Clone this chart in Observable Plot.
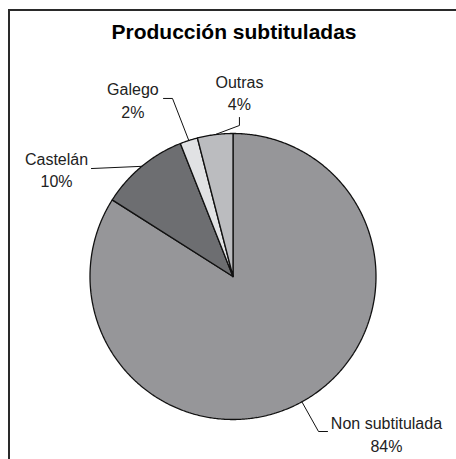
<!DOCTYPE html>
<html>
<head>
<meta charset="utf-8">
<script src="https://cdn.jsdelivr.net/npm/d3@7"></script>
<script src="https://cdn.jsdelivr.net/npm/@observablehq/plot@0.6"></script>
<style>
  html, body { margin: 0; padding: 0; background: #fff; overflow: hidden; }
  #wrap { position: relative; width: 456px; height: 459px; overflow: hidden; }
  #frame { position: absolute; left: 8px; top: 9px; width: 520px; height: 520px; border: 2px solid #2a2a2a; box-sizing: border-box; pointer-events: none; }
  #title { position: absolute; left: 0; top: 21px; width: 468px; text-align: center; font: bold 21px/21px "Liberation Sans", Arial, sans-serif; color: #000; }
  #chart { position: absolute; left: 0; top: 0; }
</style>
</head>
<body>
<div id="wrap">
  <div id="chart"></div>
  <div id="frame"></div>
  <div id="title">Producción subtituladas</div>
</div>
<script>
// ---- data ----
const categories = ["Non subtitulada", "Castelán", "Galego", "Outras"];
const values = [84, 10, 2, 4];
const percentLabels = ["84%", "10%", "2%", "4%"];

// ---- style ----
const sliceColors = ["#969699", "#6d6e71", "#e1e2e4", "#bbbcbf"];

// ---- label layout (in pie units: radius = 1) ----
const leaderBends = [
  [[0.598, -1.084], [0.661, -1.084]],
  [[-0.99, 0.755]],
  [[-0.423, 1.245], [-0.486, 1.245]],
  [[0.045, 1.056], [0.045, 1.112]]
];
const labelAnchor = [
  {x: 1.073, yName: -1.028, yPct: -1.19},
  {x: -1.234, yName: 0.818, yPct: 0.664},
  {x: -0.70, yName: 1.308, yPct: 1.147},
  {x: 0.045, yName: 1.357, yPct: 1.203}
];

// ---- build slices ----
const arcs = d3.pie().sort(null).value(d => d).startAngle(0).endAngle(2 * Math.PI)(values);
const slicePts = [];
arcs.forEach((a, i) => {
  slicePts.push({k: i, x: 0, y: 0, c: sliceColors[i]});
  const n = Math.max(2, Math.ceil((a.endAngle - a.startAngle) / (Math.PI / 360)));
  for (let j = 0; j <= n; j++) {
    const t = a.startAngle + (a.endAngle - a.startAngle) * j / n;
    slicePts.push({k: i, x: Math.sin(t), y: Math.cos(t), c: sliceColors[i]});
  }
  slicePts.push({k: i, x: 0, y: 0, c: sliceColors[i]});
});

const leaderPts = [];
arcs.forEach((a, i) => {
  const m = (a.startAngle + a.endAngle) / 2;
  leaderPts.push({k: i, x: Math.sin(m), y: Math.cos(m)});
  leaderBends[i].forEach(([x, y]) => leaderPts.push({k: i, x, y}));
});

const labels = categories.map((c, i) => ({
  name: c, pct: percentLabels[i], x: labelAnchor[i].x, yName: labelAnchor[i].yName, yPct: labelAnchor[i].yPct
}));

const cx = 232.5, cy = 276, r = 143;
const chart = Plot.plot({
  width: 456,
  height: 459,
  margin: 0,
  style: {background: "none", overflow: "visible"},
  x: {domain: [-1, 1], range: [cx - r, cx + r], axis: null},
  y: {domain: [-1, 1], range: [cy + r, cy - r], axis: null},
  color: {type: "identity"},
  marks: [
    Plot.line(slicePts, {x: "x", y: "y", z: "k", fill: "c", stroke: "#111", strokeWidth: 1.3, strokeLinejoin: "miter", curve: "linear"}),
    Plot.line(leaderPts, {x: "x", y: "y", z: "k", stroke: "#111", strokeWidth: 1, curve: "linear"}),
    Plot.text(labels, {x: "x", y: "yName", text: "name", fontSize: 16, fontFamily: "Liberation Sans, Arial, sans-serif", fill: "#222", textAnchor: "middle"}),
    Plot.text(labels, {x: "x", y: "yPct", text: "pct", fontSize: 16, fontFamily: "Liberation Sans, Arial, sans-serif", fill: "#222", textAnchor: "middle"})
  ]
});
document.getElementById("chart").appendChild(chart);
</script>
</body>
</html>
